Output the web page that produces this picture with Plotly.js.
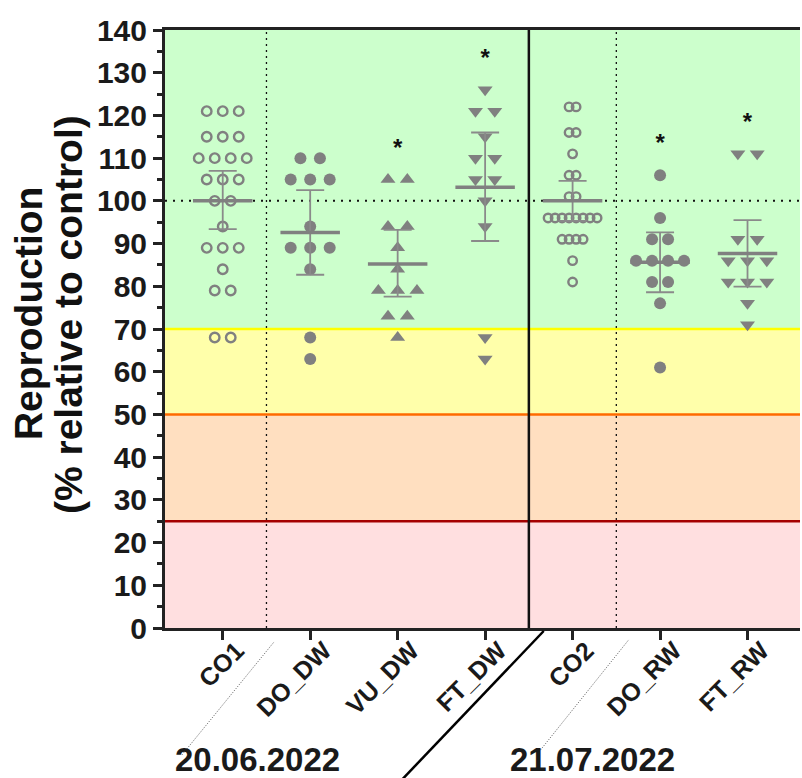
<!DOCTYPE html>
<html><head><meta charset="utf-8">
<script src="https://cdn.plot.ly/plotly-3.0.1.min.js"></script>
<style>html,body{margin:0;padding:0;background:#fff}#chart{width:802px;height:778px}</style>
</head><body><div id="chart"></div>
<script>
// ---------- data ----------
const categories = ['CO1','DO_DW','VU_DW','FT_DW','CO2','DO_RW','FT_RW'];
const co1  = [121,121,121,115,115,115,110,110,110,110,105,105,105,100,100,94,89,89,89,84,79,79,68,68];
const doDw = [110,110,105,105,105,94,89,89,89,84,68,63];
const vuDw = [105,105,94,94,89,84,79,79,79,73,73,68];
const ftDw = [126,121,121,115,110,110,105,105,100,94,68,63];
const co2  = [122,122,116,116,111,106,106,101,101,96,96,96,96,96,96,96,96,91,91,91,91,86,81];
const doRw = [106,96,91,91,86,86,86,86,81,81,76,61];
const ftRw = [111,111,91,91,86,86,86,81,81,81,76,71];
const means   = [100, 92.6, 85.2, 103.2, 100, 85.6, 87.7];
const ciUpper = [107, 102.5, 93.2, 116, 104.7, 92.6, 95.5];
const ciLower = [93.4, 82.7, 77.6, 90.6, 95.3, 78.6, 79.9];
const asteriskY = [null, null, 112, 133, null, 113, 118];
const dateLabels = ['20.06.2022', '21.07.2022'];
const yTitleLines = ['Reproduction', '(% relative to control)'];
const bandEdges = [0, 25, 50, 70, 140];
const referenceLevel = 100;
const dottedSeparators = [0.5, 4.5];
const solidSeparators = [3.5];

// ---------- style ----------
const groups = [co1, doDw, vuDw, ftDw, co2, doRw, ftRw];
const symbols = ['circle-open','circle','triangle-up','triangle-down','circle-open','circle','triangle-down'];
const msizes  = [9.5, 12, 13, 13, 8.5, 12, 13];
const spacingPx = [16, 19.5, 19.3, 19.3, 7, 16, 19.3];
const grey = '#808080';
const bandColors = ['#ffdfe0', '#ffdfc0', '#ffffaa', '#ccffcc'];
const lineColors = ['#a50000', '#ff6a00', '#ffff00'];
const xRange = [-0.66, 6.6];
const plotW = 802 - 165 - 2;
const pxPerUnit = plotW / (xRange[1] - xRange[0]);
const FONT = 'Liberation Sans, Arial, sans-serif';

function spread(vals, idx, sp) {
  const counts = {}, seen = {};
  vals.forEach(v => counts[v] = (counts[v] || 0) + 1);
  return vals.map(v => {
    const k = (seen[v] = (seen[v] || 0) + 1) - 1;
    return idx + (k - (counts[v] - 1) / 2) * sp / pxPerUnit;
  });
}

const traces = [];
groups.forEach((vals, i) => {
  const open = symbols[i].endsWith('open');
  traces.push({
    type: 'scatter', mode: 'markers', x: spread(vals, i, spacingPx[i]), y: vals,
    marker: { symbol: symbols[i], size: msizes[i], color: grey,
              line: { color: grey, width: open ? 2.4 : 0 } },
    hoverinfo: 'y', showlegend: false
  });
});
// CI error bars
traces.push({
  type: 'scatter', mode: 'markers', x: categories.map((c, i) => i), y: means,
  marker: { size: 1, opacity: 0 }, showlegend: false, hoverinfo: 'skip',
  error_y: { type: 'data', symmetric: false,
             array: ciUpper.map((u, i) => u - means[i]),
             arrayminus: ciLower.map((l, i) => means[i] - l),
             width: 14, thickness: 1.8, color: '#8a8a8a' }
});
// mean lines
traces.push({
  type: 'scatter', mode: 'markers', x: categories.map((c, i) => i), y: means,
  marker: { size: 1, opacity: 0 }, showlegend: false, hoverinfo: 'skip',
  error_x: { type: 'constant', value: 0.34, width: 0, thickness: 3.5, color: grey }
});
// asterisks
traces.push({
  type: 'scatter', mode: 'text', x: categories.map((c, i) => i), y: asteriskY,
  text: asteriskY.map(v => v == null ? '' : '*'),
  textfont: { family: FONT, size: 24, weight: 'bold', color: '#111' }, textposition: 'middle center',
  showlegend: false, hoverinfo: 'skip'
});

const shapes = [];
for (let i = 0; i < bandColors.length; i++) {
  shapes.push({ type: 'rect', xref: 'paper', yref: 'y', x0: 0, x1: 1, y0: bandEdges[i], y1: bandEdges[i + 1],
                fillcolor: bandColors[i], line: { width: 0 }, layer: 'below' });
}
for (let i = 0; i < lineColors.length; i++) {
  shapes.push({ type: 'line', xref: 'paper', yref: 'y', x0: 0, x1: 1, y0: bandEdges[i + 1], y1: bandEdges[i + 1],
                line: { color: lineColors[i], width: 2.5 }, layer: 'below' });
}
shapes.push({ type: 'line', xref: 'paper', yref: 'y', x0: 0, x1: 1, y0: referenceLevel, y1: referenceLevel,
              line: { color: '#111', width: 2, dash: '2px,6px' }, layer: 'below' });
dottedSeparators.forEach(s => shapes.push({ type: 'line', xref: 'x', yref: 'paper', x0: s, x1: s, y0: 0, y1: 1,
              line: { color: '#111', width: 1.3, dash: '2px,4px' }, layer: 'below' }));
solidSeparators.forEach(s => shapes.push({ type: 'line', xref: 'x', yref: 'paper', x0: s, x1: s, y0: 0, y1: 1,
              line: { color: '#111', width: 2.5 }, layer: 'above' }));
// diagonal decorations in the label area
shapes.push({ type: 'line', xref: 'x', yref: 'paper', x0: -0.465, y0: -0.212, x1: 0.586, y1: -0.0234,
              line: { color: '#333', width: 0.8, dash: '1px,1.5px' } });
shapes.push({ type: 'line', xref: 'x', yref: 'paper', x0: 3.6, y0: -0.21, x1: 4.64, y1: -0.02,
              line: { color: '#333', width: 0.8, dash: '1px,1.5px' } });
shapes.push({ type: 'line', xref: 'x', yref: 'paper', x0: 3.67, y0: -0.005, x1: 1.91, y1: -0.275,
              line: { color: '#000', width: 2.5 } });

const dateFont = { family: FONT, size: 33, weight: 'bold', color: '#1a1a1a' };
const titleFont = { family: FONT, size: 39, weight: 'bold', color: '#111' };
const annotations = [
  { text: dateLabels[0], x: 0.4, y: -0.255, xref: 'x', yref: 'paper', showarrow: false, font: dateFont, yanchor: 'bottom' },
  { text: dateLabels[1], x: 4.23, y: -0.255, xref: 'x', yref: 'paper', showarrow: false, font: dateFont, yanchor: 'bottom' },
  { text: yTitleLines[0], x: -0.2157, y: 0.525, xref: 'paper', yref: 'paper', showarrow: false, textangle: -90,
    font: titleFont, xanchor: 'center', yanchor: 'middle' },
  { text: yTitleLines[1], x: -0.1528, y: 0.525, xref: 'paper', yref: 'paper', showarrow: false, textangle: -90,
    font: titleFont, xanchor: 'center', yanchor: 'middle' }
];

const layout = {
  width: 802, height: 778,
  margin: { l: 165, r: 2, t: 30, b: 150 },
  paper_bgcolor: '#fff', plot_bgcolor: '#fff',
  showlegend: false,
  xaxis: {
    range: xRange, tickvals: categories.map((c, i) => i), ticktext: categories,
    tickangle: -45, ticks: 'outside', ticklen: 9, tickwidth: 3, tickcolor: '#222',
    ticklabelshift: 14, ticklabelstandoff: -14,
    showline: true, linewidth: 3, linecolor: '#222', mirror: true,
    showgrid: false, zeroline: false,
    tickfont: { family: FONT, size: 25, weight: 'bold', color: '#1a1a1a' }
  },
  yaxis: {
    range: [0, 140], dtick: 10, ticks: 'outside', ticklen: 9, tickwidth: 3, tickcolor: '#222',
    minor: { dtick: 5, ticks: 'outside', ticklen: 5, tickwidth: 3, tickcolor: '#222', showgrid: false },
    showline: true, linewidth: 3, linecolor: '#222',
    showgrid: false, zeroline: false,
    tickfont: { family: FONT, size: 30, weight: 'bold', color: '#1a1a1a' }
  },
  shapes: shapes,
  annotations: annotations
};

Plotly.newPlot('chart', traces, layout, { displayModeBar: false, staticPlot: true });
</script>
</body></html>
